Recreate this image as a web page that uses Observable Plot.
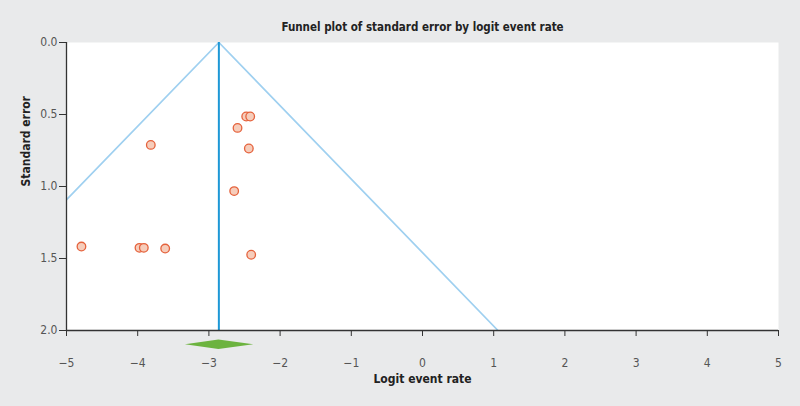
<!DOCTYPE html>
<html><head><meta charset="utf-8">
<script src="https://cdn.jsdelivr.net/npm/d3@7"></script>
<script src="https://cdn.jsdelivr.net/npm/@observablehq/plot@0.6"></script>
<style>
html,body{margin:0;padding:0;background:#e9eaeb;}
svg{display:block;}
</style></head>
<body><div id="chart"></div>
<script>
// Study data: logit event rate and standard error
const logitRate = [-4.79, -3.975, -3.914, -3.614, -3.816, -2.476, -2.420, -2.598, -2.439, -2.645, -2.406];
const stdError  = [1.417, 1.426, 1.426, 1.431, 0.711, 0.514, 0.514, 0.593, 0.736, 1.032, 1.474];
// Pooled estimate and its CI (diamond)
const pooled = -2.86;
const pooledLow = -3.33;
const pooledHigh = -2.37;
const xTicks = [-5, -4, -3, -2, -1, 0, 1, 2, 3, 4, 5];
const yTicks = [0, 0.5, 1.0, 1.5, 2.0];
const title = "Funnel plot of standard error by logit event rate";
const xLabel = "Logit event rate";
const yLabel = "Standard error";

const points = logitRate.map((x, i) => ({x, se: stdError[i]}));
const seMax = 2;
const funnelLeft = [{x: pooled, se: 0}, {x: pooled - 1.96 * seMax, se: seMax}];
const funnelRight = [{x: pooled, se: 0}, {x: pooled + 1.96 * seMax, se: seMax}];
const diamondY = 2.099, diamondH = 0.033;
const diamond = [
  {x: pooledLow, lo: diamondY, hi: diamondY},
  {x: pooled, lo: diamondY - diamondH, hi: diamondY + diamondH},
  {x: pooledHigh, lo: diamondY, hi: diamondY}
];

const font = "'Liberation Sans Narrow','DejaVu Sans Condensed','Open Sans',sans-serif";

const chart = Plot.plot({
  width: 800,
  height: 406,
  marginTop: 42,
  marginBottom: 76,
  marginLeft: 66,
  marginRight: 22,
  style: {background: "#e9eaeb", fontFamily: font, fontSize: "12px", color: "#444"},
  x: {domain: [-5, 5], ticks: xTicks},
  y: {domain: [0, 2], reverse: true, ticks: yTicks},
  marks: [
    Plot.frame({fill: "white", stroke: "none"}),
    Plot.line(funnelLeft, {x: "x", y: "se", stroke: "#9fd0f0", strokeWidth: 1.7, clip: true}),
    Plot.line(funnelRight, {x: "x", y: "se", stroke: "#9fd0f0", strokeWidth: 1.7, clip: true}),
    Plot.ruleX([pooled], {y1: 0, y2: 2, stroke: "#1d98d6", strokeWidth: 2}),
    Plot.dot(points, {x: "x", y: "se", r: 4.3, stroke: "#e5623c", strokeWidth: 1.3, fill: "#f6cdbb"}),
    Plot.area(diamond, {x1: "x", y1: "lo", y2: "hi", fill: "#6cb33f"}),
    Plot.ruleX([-5], {y1: 0, y2: 2, stroke: "#333", strokeWidth: 1.3}),
    Plot.ruleY([2], {x1: -5, x2: 5, stroke: "#333", strokeWidth: 1.3}),
    Plot.axisX({ticks: xTicks, tickSize: 6, tickPadding: 22, label: null, stroke: "#333", fill: "#555", fontSize: 12}),
    Plot.axisY({ticks: yTicks, tickSize: 7, tickPadding: 2, tickFormat: d3.format(".1f"), label: null, stroke: "#333", fill: "#555", fontSize: 12}),
    Plot.text([title], {frameAnchor: "top", dy: -20, fontWeight: 600, fontSize: 11.5, fill: "#222"}),
    Plot.text([xLabel], {frameAnchor: "bottom", dy: 52, fontWeight: 600, fontSize: 12, fill: "#222"}),
    Plot.text([yLabel], {frameAnchor: "left", dx: -40, rotate: -90, fontWeight: 600, fontSize: 12, fill: "#222"})
  ]
});
document.getElementById("chart").appendChild(chart);
</script>
</body></html>
